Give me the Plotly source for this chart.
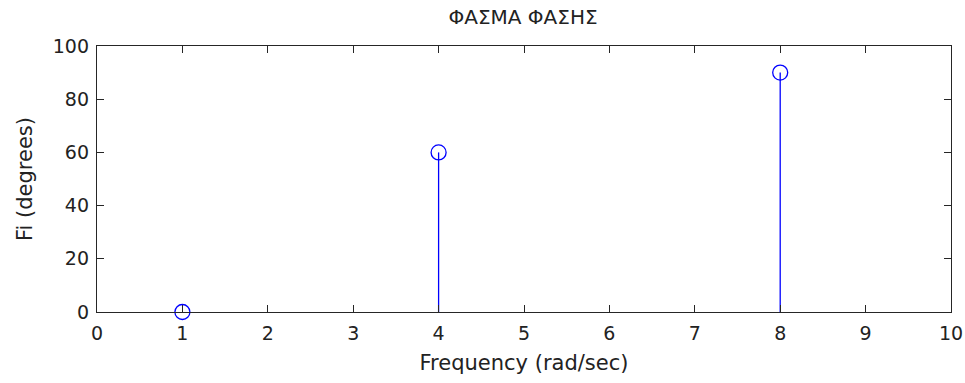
import plotly.graph_objects as go

# Phase spectrum samples
frequency = [1, 4, 8]
phase_deg = [0, 60, 90]

x_ticks = list(range(0, 11))
y_ticks = [0, 20, 40, 60, 80, 100]

# Build stems (vertical segments from 0 up to each value)
stem_x, stem_y = [], []
for f, p in zip(frequency, phase_deg):
    stem_x += [f, f, None]
    stem_y += [0, p, None]

axis_color = "#262626"
text_color = "#222222"
font_family = "DejaVu Sans, Liberation Sans, sans-serif"

fig = go.Figure()
fig.add_trace(go.Scatter(
    x=stem_x, y=stem_y, mode="lines",
    line=dict(color="#0000ff", width=1.3),
    hoverinfo="skip", showlegend=False,
))
fig.add_trace(go.Scatter(
    x=frequency, y=phase_deg, mode="markers",
    marker=dict(symbol="circle-open", size=15, color="#0000ff",
                line=dict(color="#0000ff", width=1.3)),
    showlegend=False, cliponaxis=False,
))

axis_common = dict(
    showgrid=False, zeroline=False, automargin=False,
    showline=True, linecolor=axis_color, linewidth=1.3,
    mirror="ticks", ticks="inside", ticklen=7, tickwidth=1.3,
    tickcolor=axis_color,
    tickfont=dict(family=font_family, size=19, color=text_color),
)

fig.update_layout(
    width=965, height=383,
    margin=dict(l=97, r=14, t=46, b=71),
    paper_bgcolor="white", plot_bgcolor="white",
    title=dict(text="ΦΑΣΜΑ ΦΑΣΗΣ", x=0.542, xanchor="center",
               y=0.955, yanchor="middle",
               font=dict(family=font_family, size=20, color=text_color)),
    xaxis=dict(range=[0, 10], tickvals=x_ticks, ticklabelstandoff=4,
               **axis_common,
               title=dict(text="Frequency (rad/sec)", standoff=12,
                          font=dict(family=font_family, size=21, color=text_color))),
    yaxis=dict(range=[0, 100], tickvals=y_ticks, ticklabelstandoff=3,
               **axis_common,
               title=dict(text="Fi (degrees)", standoff=14,
                          font=dict(family=font_family, size=21, color=text_color))),
)

fig.write_html("out.html")
